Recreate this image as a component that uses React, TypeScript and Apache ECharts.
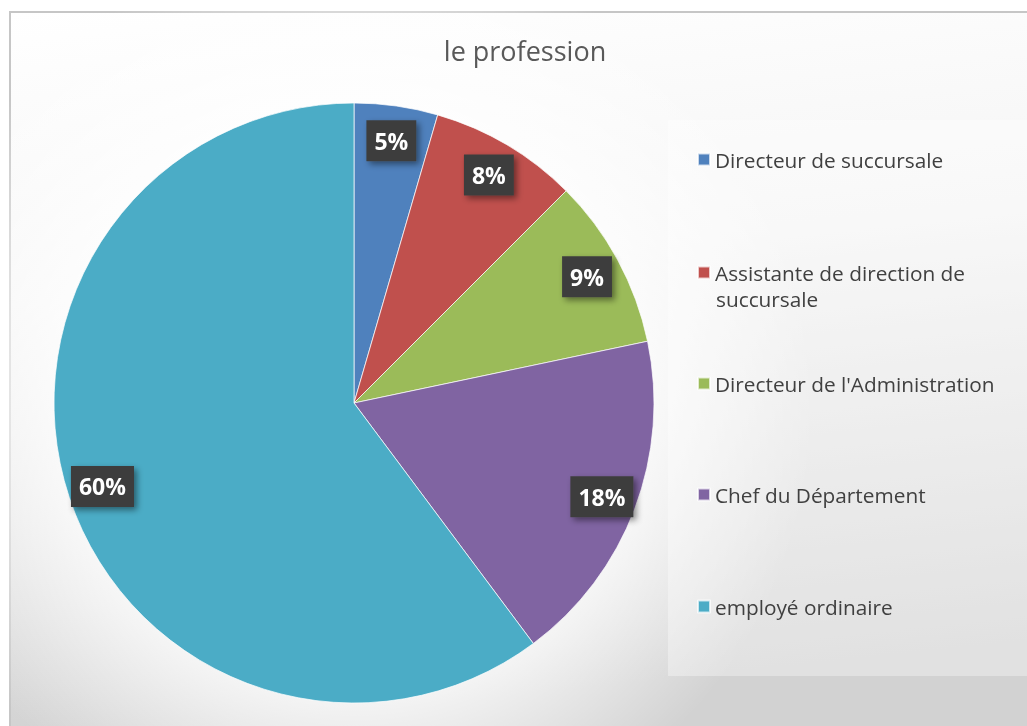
import React, { useEffect, useRef } from "react";
import * as echarts from "echarts";

const TITLE = "le profession";
const categories = [
  "Directeur de succursale",
  "Assistante de direction de succursale",
  "Directeur de l'Administration",
  "Chef du Département",
  "employé ordinaire",
];
const values = [4.5, 8, 9.2, 18.1, 60.2];
const colors = ["#4F81BD", "#C0504D", "#9BBB59", "#8064A2", "#4BACC6"];
// legend row centres (px)
const legendTops = [158, 271, 382, 493, 605];

const FONT = "'Open Sans', 'Noto Sans', sans-serif";

export default function App() {
  const ref = useRef<HTMLDivElement>(null);
  useEffect(() => {
    if (!ref.current) return;
    const chart = echarts.init(ref.current, undefined, { renderer: "svg" });
    const cx = 354;
    const cy = 403;
    const R = 300;

    const legends = categories.map((name, i) => ({
      show: true,
      orient: "vertical",
      left: 697,
      top: legendTops[i] - 9,
      padding: 0,
      itemWidth: 12,
      itemHeight: 12,
      icon: "rect",
      data: [name],
      selectedMode: false,
      formatter: (n: string) =>
        n === categories[1] ? "Assistante de direction de" : n,
      textStyle: { fontSize: 20.8, color: "#404040", fontFamily: FONT },
    }));

    const option: any = {
      animation: false,
      color: colors,
      title: {
        text: TITLE,
        left: 520,
        textAlign: "center",
        top: 32,
        textStyle: {
          fontSize: 27,
          fontWeight: "normal",
          color: "#595959",
          fontFamily: FONT,
        },
      },
      legend: legends,
      graphic: [
        {
          type: "rect",
          z: -10,
          silent: true,
          shape: { x: 0, y: 0, width: 1027, height: 726 },
          style: { fill: "#ffffff" },
        },
        {
          type: "rect",
          z: -9,
          silent: true,
          shape: { x: 10, y: 12, width: 1020, height: 720 },
          style: {
            fill: {
              type: "linear",
              x: 0,
              y: 0,
              x2: 0.15,
              y2: 1,
              colorStops: [
                { offset: 0, color: "#ffffff" },
                { offset: 0.4, color: "#f5f5f5" },
                { offset: 1, color: "#d2d2d2" },
              ],
            },
            stroke: "#c6c6c6",
            lineWidth: 2,
          },
        },
        {
          type: "circle",
          z: -8,
          silent: true,
          shape: { cx: cx, cy: cy, r: 460 },
          style: {
            fill: {
              type: "radial",
              x: 0.5,
              y: 0.5,
              r: 0.5,
              colorStops: [
                { offset: 0, color: "rgba(255,255,255,1)" },
                { offset: 0.6, color: "rgba(255,255,255,0.85)" },
                { offset: 1, color: "rgba(255,255,255,0)" },
              ],
            },
          },
        },
        {
          type: "rect",
          z: -7,
          silent: true,
          shape: { x: 668, y: 120, width: 380, height: 556 },
          style: { fill: "rgba(255,255,255,0.35)" },
        },
        {
          type: "text",
          z: 10,
          left: 716,
          top: 288,
          style: {
            text: "succursale",
            fontSize: 20.8,
            fill: "#404040",
            fontFamily: FONT,
          },
        },
      ],
      series: [
        {
          type: "pie",
          center: [cx, cy],
          radius: [0, R],
          startAngle: 90,
          clockwise: true,
          percentPrecision: 0,
          label: { show: false },
          labelLine: { show: false },
          itemStyle: { borderColor: "rgba(255,255,255,0.7)", borderWidth: 1 },
          emphasis: { disabled: true },
          data: categories.map((name, i) => ({ name, value: values[i] })),
        },
        {
          type: "pie",
          center: [cx, cy],
          radius: [224, R],
          startAngle: 90,
          clockwise: true,
          silent: true,
          percentPrecision: 0,
          legendHoverLink: false,
          itemStyle: { color: "rgba(0,0,0,0)", borderWidth: 0 },
          emphasis: { disabled: true },
          labelLine: { show: false },
          label: {
            show: true,
            position: "inside",
            formatter: "{d}%",
            color: "#ffffff",
            fontSize: 23,
            fontWeight: "bold",
            fontFamily: FONT,
            backgroundColor: "#3d3d3d",
            padding: [10, 8, 8, 8],
            shadowColor: "rgba(0,0,0,0.45)",
            shadowBlur: 6,
            shadowOffsetX: 3,
            shadowOffsetY: 3,
          },
          data: categories.map((name, i) => ({ name, value: values[i] })),
        },
      ],
    };
    chart.setOption(option);
    return () => chart.dispose();
  }, []);
  return (
    <div
      ref={ref}
      style={{ position: "fixed", left: 0, top: 0, width: 1027, height: 726 }}
    />
  );
}
